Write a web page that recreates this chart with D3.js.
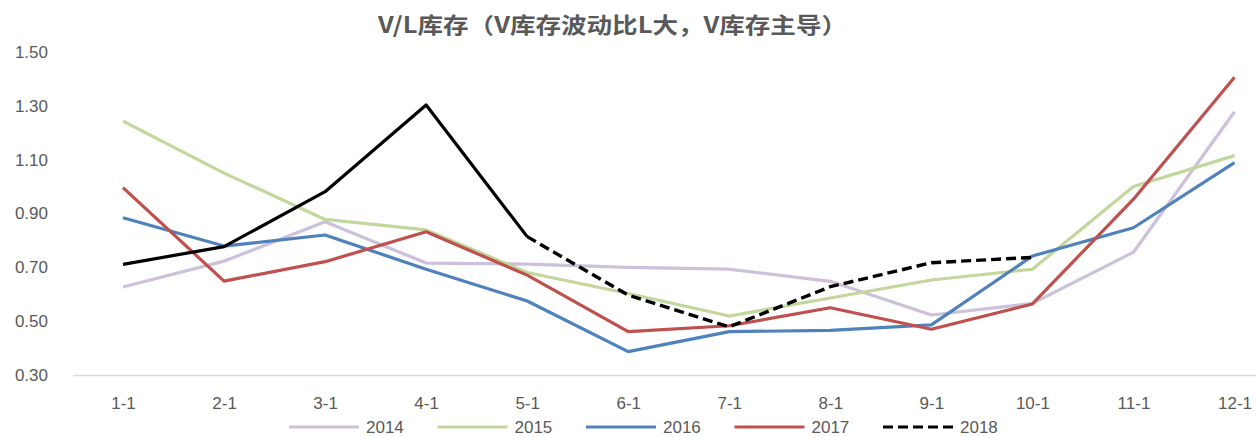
<!DOCTYPE html>
<html>
<head>
<meta charset="utf-8">
<script src="https://cdn.jsdelivr.net/npm/d3@7"></script>
<style>
  body { margin: 0; background: #fff; }
  svg { display: block; }
  .tick text { font-family: "Liberation Sans", Arial, sans-serif; font-size: 17px; fill: #595959; }
</style>
</head>
<body>
<div id="chart"></div>
<script>
var months = ["1-1","2-1","3-1","4-1","5-1","6-1","7-1","8-1","9-1","10-1","11-1","12-1"];
var yTicks = [0.30, 0.50, 0.70, 0.90, 1.10, 1.30, 1.50];

var s2014 = [0.627, 0.723, 0.869, 0.716, 0.712, 0.700, 0.693, 0.648, 0.523, 0.566, 0.756, 1.278];
var s2015 = [1.243, 1.050, 0.878, 0.839, 0.681, 0.603, 0.519, 0.586, 0.653, 0.693, 1.000, 1.115];
var s2016 = [0.884, 0.779, 0.820, 0.693, 0.575, 0.387, 0.461, 0.466, 0.486, 0.742, 0.847, 1.089];
var s2017 = [0.996, 0.649, 0.721, 0.832, 0.671, 0.461, 0.483, 0.550, 0.470, 0.564, 0.953, 1.406];
var s2018 = [0.711, 0.777, 0.981, 1.303, 0.814, 0.597, 0.479, 0.628, 0.717, 0.737];
var dashFrom = 4; // 2018 turns dashed after 5-1

var series = [
  {name: "2014", values: s2014, color: "#ccc1da"},
  {name: "2015", values: s2015, color: "#c3d69b"},
  {name: "2016", values: s2016, color: "#4f81bd"},
  {name: "2017", values: s2017, color: "#c0504d"},
  {name: "2018", values: s2018, color: "#000000", dash: true}
];

var W = 1256, H = 437;
var svg = d3.select("#chart").append("svg").attr("width", W).attr("height", H);

var x = d3.scalePoint().domain(months).range([123, 1234.5]);
var y = d3.scaleLinear().domain([0.30, 1.50]).range([375, 52]);

// title
svg.append("text")
  .attr("x", 378).attr("y", 33)
  .attr("textLength", 469)
  .attr("lengthAdjust", "spacingAndGlyphs")
  .style("font-family", "'Noto Sans CJK SC', sans-serif")
  .style("font-weight", "bold")
  .style("font-size", "22px")
  .style("fill", "#595959")
  .text("V/L库存（V库存波动比L大，V库存主导）");

// y axis (labels only)
var yAxis = svg.append("g")
  .attr("transform", "translate(48,0)")
  .call(d3.axisLeft(y).tickValues(yTicks).tickFormat(d3.format(".2f")).tickSize(0).tickPadding(0));
yAxis.select(".domain").remove();

// x axis
var xAxis = svg.append("g")
  .attr("transform", "translate(0,375)")
  .call(d3.axisBottom(x).tickSize(0).tickPadding(22));
xAxis.select(".domain").remove();
svg.append("line")
  .attr("x1", 73).attr("x2", W)
  .attr("y1", 375.5).attr("y2", 375.5)
  .attr("stroke", "#d9d9d9").attr("stroke-width", 1.5);

var line = d3.line()
  .x(function(d) { return x(d.m); })
  .y(function(d) { return y(d.v); });

series.forEach(function(s) {
  var pts = s.values.map(function(v, i) { return {m: months[i], v: v}; });
  if (s.dash) {
    svg.append("path").datum(pts.slice(0, dashFrom + 1))
      .attr("d", line).attr("fill", "none")
      .attr("stroke", s.color).attr("stroke-width", 3.2).attr("stroke-linejoin", "round");
    svg.append("path").datum(pts.slice(dashFrom))
      .attr("d", line).attr("fill", "none")
      .attr("stroke", s.color).attr("stroke-width", 3.4)
      .attr("stroke-dasharray", "10,5").attr("stroke-linejoin", "round");
  } else {
    svg.append("path").datum(pts)
      .attr("d", line).attr("fill", "none")
      .attr("stroke", s.color).attr("stroke-width", 3.2).attr("stroke-linejoin", "round");
  }
});

// legend
var legend = svg.append("g").attr("transform", "translate(289,427)");
var item = legend.selectAll("g").data(series).enter().append("g")
  .attr("transform", function(d, i) { return "translate(" + (i * 148.5) + ",0)"; });
item.append("line")
  .attr("x1", 0).attr("x2", 70).attr("y1", 0).attr("y2", 0)
  .attr("stroke", function(d) { return d.color; })
  .attr("stroke-width", 3.2)
  .attr("stroke-dasharray", function(d) { return d.dash ? "10,5" : null; });
item.append("text")
  .attr("x", 77).attr("y", 0).attr("dy", "0.35em")
  .style("font-family", "'Liberation Sans', Arial, sans-serif")
  .style("font-size", "17px")
  .style("fill", "#595959")
  .text(function(d) { return d.name; });
</script>
</body>
</html>
